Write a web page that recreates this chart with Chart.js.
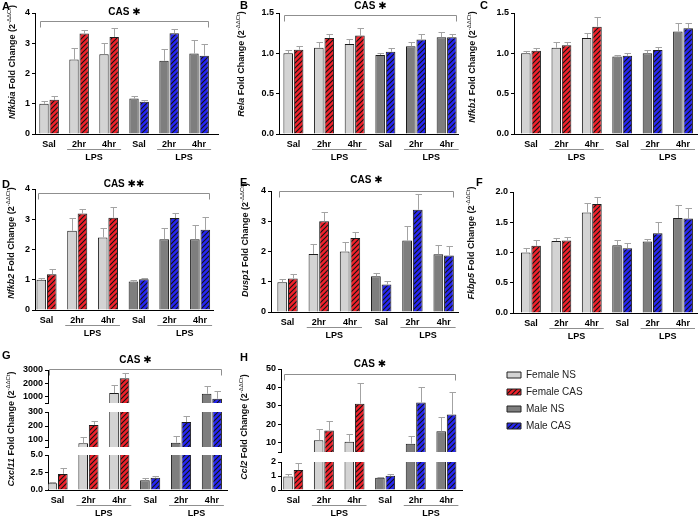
<!DOCTYPE html>
<html><head><meta charset="utf-8">
<script src="https://cdn.jsdelivr.net/npm/chart.js@4.4.1/dist/chart.umd.min.js"></script>
<style>
html,body{margin:0;padding:0;background:#fff;overflow:hidden;}
#wrap{position:relative;width:699px;height:517px;background:#fff;}
canvas{position:absolute;}
</style></head><body><div id="wrap"></div>
<script>
// ---------- data ----------
const categories = ['Sal','2hr','4hr','Sal','2hr','4hr'];
const groupLabel = 'LPS';
const seriesNames = ['Female NS','Female CAS','Male NS','Male CAS'];

const nfkbiaNS     = [1.00, 2.46, 2.64, 1.17, 2.42, 2.66];
const nfkbiaNSErr  = [0.08, 0.38, 0.37, 0.10, 0.39, 0.46];
const nfkbiaCAS    = [1.13, 3.32, 3.21, 1.07, 3.33, 2.59];
const nfkbiaCASErr = [0.12, 0.11, 0.28, 0.06, 0.14, 0.40];

const relaNS     = [1.00, 1.07, 1.116, 0.98, 1.087, 1.20];
const relaNSErr  = [0.04, 0.066, 0.064, 0.03, 0.053, 0.064];
const relaCAS    = [1.045, 1.19, 1.22, 1.02, 1.17, 1.20];
const relaCASErr = [0.042, 0.05, 0.10, 0.04, 0.065, 0.044];

const nfkb1NS     = [1.00, 1.07, 1.19, 0.96, 1.00, 1.27];
const nfkb1NSErr  = [0.025, 0.075, 0.06, 0.02, 0.037, 0.106];
const nfkb1CAS    = [1.033, 1.10, 1.33, 0.97, 1.04, 1.31];
const nfkb1CASErr = [0.033, 0.036, 0.12, 0.03, 0.04, 0.066];

const nfkb2NS     = [1.00, 2.62, 2.40, 0.94, 2.34, 2.34];
const nfkb2NSErr  = [0.05, 0.42, 0.31, 0.04, 0.37, 0.47];
const nfkb2CAS    = [1.18, 3.19, 3.05, 1.02, 3.04, 2.65];
const nfkb2CASErr = [0.17, 0.15, 0.35, 0.05, 0.16, 0.41];

const dusp1NS     = [0.98, 1.92, 2.00, 1.18, 2.36, 1.91];
const dusp1NSErr  = [0.10, 0.32, 0.33, 0.12, 0.47, 0.29];
const dusp1CAS    = [1.11, 3.00, 2.45, 0.91, 3.38, 1.87];
const dusp1CASErr = [0.16, 0.32, 0.21, 0.11, 0.53, 0.30];

const fkbp5NS     = [1.00, 1.19, 1.66, 1.12, 1.18, 1.57];
const fkbp5NSErr  = [0.08, 0.05, 0.15, 0.09, 0.05, 0.22];
const fkbp5CAS    = [1.11, 1.20, 1.80, 1.07, 1.32, 1.56];
const fkbp5CASErr = [0.09, 0.06, 0.11, 0.08, 0.18, 0.18];

const cxcl11NS     = [0.95, 76, 1250, 1.38, 81, 1200];
const cxcl11NSErr  = [0.22, 43, 625, 0.29, 47, 625];
const cxcl11CAS    = [2.30, 208, 2375, 1.76, 228, 825];
const cxcl11CASErr = [0.90, 25, 375, 0.29, 41, 550];

const ccl2NS     = [0.96, 11.4, 10.6, 0.87, 9.5, 16.2];
const ccl2NSErr  = [0.17, 5.8, 4.3, 0.07, 4.3, 8.0];
const ccl2CAS    = [1.42, 16.7, 31.2, 1.01, 31.8, 25.3];
const ccl2CASErr = [0.50, 5.2, 11.1, 0.12, 8.5, 12.4];

// tick labels
const ticks0to4   = ['0','1','2','3','4'];
const ticks0to15  = ['0.0','0.5','1.0','1.5'];
const ticks0to20  = ['0.0','0.5','1.0','1.5','2.0'];
const ticksCxcl11Low  = ['0.0','2.5','5.0'];
const ticksCxcl11Mid  = ['100','200','300'];
const ticksCxcl11High = ['1000','2000','3000'];
const ticksCcl2Low  = ['0','1','2'];
const ticksCcl2High = ['10','20','30','40','50'];

const casOne = 'CAS \u2731';
const casTwo = 'CAS \u2731\u2731';

// ---------- styles / layout ----------
const FONT = '"Liberation Sans", Arial, Helvetica, sans-serif';
Chart.defaults.font.family = FONT;
const LG = '#d3d3d3', DG = '#7e7e7e';
function hatch(color){
  const n = 5;
  const c = document.createElement('canvas'); c.width = n; c.height = n;
  const g = c.getContext('2d');
  g.fillStyle = color; g.fillRect(0,0,n,n);
  g.strokeStyle = '#141414'; g.lineWidth = 1.15;
  g.beginPath();
  g.moveTo(-1,n+1); g.lineTo(n+1,-1);
  g.moveTo(-1,1); g.lineTo(1,-1);
  g.moveTo(n-1,n+1); g.lineTo(n+1,n-1);
  g.stroke();
  return g.createPattern(c,'repeat');
}
const RP = hatch('#f0212a'), BP = hatch('#2626f2');

const panels = [
 {id:'A', gene:'Nfkbia', ns:nfkbiaNS, nsErr:nfkbiaNSErr, cas:nfkbiaCAS, casErr:nfkbiaCASErr,
  box:[0,0,233,170], axisX:35, right:218, xr:[-0.47,5.63],
  segs:[{min:0,max:4,top:13,bottom:134,ticks:ticks0to4}],
  title:[13,62], letter:[2,7], bracket:{y:20.5, ty:12, text:casOne}},
 {id:'B', gene:'Rela', ns:relaNS, nsErr:relaNSErr, cas:relaCAS, casErr:relaCASErr,
  box:[233,0,466,170], axisX:279, right:458, xr:[-0.47,5.37],
  segs:[{min:0,max:1.5,top:13,bottom:134,ticks:ticks0to15}],
  title:[242,64], letter:[240,6], bracket:{y:15, ty:6, text:casOne}},
 {id:'C', gene:'Nfkb1', ns:nfkb1NS, nsErr:nfkb1NSErr, cas:nfkb1CAS, casErr:nfkb1CASErr,
  box:[466,0,699,170], axisX:514, right:697, xr:[-0.56,5.46],
  segs:[{min:0,max:1.5,top:13,bottom:134,ticks:ticks0to15}],
  title:[472.5,67], letter:[480,6], bracket:null},
 {id:'D', gene:'Nfkb2', ns:nfkb2NS, nsErr:nfkb2NSErr, cas:nfkb2CAS, casErr:nfkb2CASErr,
  box:[0,170,233,340], axisX:35, right:213, xr:[-0.375,5.42],
  segs:[{min:0,max:4,top:189,bottom:310,ticks:ticks0to4}],
  title:[12,243], letter:[2,185], bracket:{y:193, ty:184, text:casTwo}},
 {id:'E', gene:'Dusp1', ns:dusp1NS, nsErr:dusp1NSErr, cas:dusp1CAS, casErr:dusp1CASErr,
  box:[233,170,466,340], axisX:271, right:458, xr:[-0.53,5.46],
  segs:[{min:0,max:4,top:191,bottom:312,ticks:ticks0to4}],
  title:[245.5,240], letter:[240,183], bracket:{y:191, ty:180, text:casOne}},
 {id:'F', gene:'Fkbp5', ns:fkbp5NS, nsErr:fkbp5NSErr, cas:fkbp5CAS, casErr:fkbp5CASErr,
  box:[466,170,699,340], axisX:513, right:697, xr:[-0.59,5.46],
  segs:[{min:0,max:2,top:192,bottom:313,ticks:ticks0to20}],
  title:[472,243], letter:[476,183], bracket:null},
 {id:'G', gene:'Cxcl11', ns:cxcl11NS, nsErr:cxcl11NSErr, cas:cxcl11CAS, casErr:cxcl11CASErr,
  box:[0,340,233,517], axisX:48, right:227, xr:[-0.31,5.49],
  segs:[{min:500,max:3000,top:370,bottom:403,ticks:ticksCxcl11High},
        {min:50,max:300,top:412,bottom:447,ticks:ticksCxcl11Mid},
        {min:0,max:5,top:455,bottom:490,ticks:ticksCxcl11Low}],
  title:[12,429], letter:[2,356], bracket:{y:369, ty:360, text:casOne}},
 {id:'H', gene:'Ccl2', ns:ccl2NS, nsErr:ccl2NSErr, cas:ccl2CAS, casErr:ccl2CASErr,
  box:[233,340,466,517], axisX:281, right:462, xr:[-0.4,5.51],
  segs:[{min:5,max:50,top:369,bottom:452,ticks:ticksCcl2High},
        {min:0,max:2,top:462,bottom:490,ticks:ticksCcl2Low}],
  title:[245,427], letter:[240,358], bracket:{y:374, ty:364, text:casOne}}
];

const wrap = document.getElementById('wrap');

const errPlugin = {id:'errbars', afterDatasetsDraw(chart){
  const ctx = chart.ctx, ys = chart.scales.y, a = chart.chartArea;
  ctx.save();
  ctx.beginPath(); ctx.rect(a.left, a.top - 1, a.right - a.left, a.bottom - a.top + 1); ctx.clip();
  ctx.strokeStyle = '#a3a3a3'; ctx.lineWidth = 1;
  chart.data.datasets.forEach((ds, di) => {
    const meta = chart.getDatasetMeta(di);
    meta.data.forEach((el, j) => {
      const v = ds.data[j];
      if (v == null || v < ys.min || v > ys.max) return;
      const x = Math.round(el.x) + 0.5;
      const y1 = Math.round(ys.getPixelForValue(v + ds.err[j])) + 0.5;
      ctx.beginPath();
      ctx.moveTo(x, el.y); ctx.lineTo(x, y1);
      ctx.moveTo(x - 3, y1); ctx.lineTo(x + 3.5, y1);
      ctx.stroke();
    });
  });
  ctx.restore();
}};

function drawTitle(ctx, cx, cy, gene){
  const parts = [
    {t: gene, f: 'italic bold 9px ' + FONT, dy: 0},
    {t: ' Fold Change (2', f: 'bold 9px ' + FONT, dy: 0},
    {t: '-\u0394\u0394Ct', f: '6px ' + FONT, dy: -3.5},
    {t: ')', f: 'bold 9px ' + FONT, dy: 0}
  ];
  let total = 0;
  parts.forEach(p => { ctx.font = p.f; p.w = ctx.measureText(p.t).width; total += p.w; });
  ctx.save();
  ctx.translate(cx, cy); ctx.rotate(-Math.PI/2);
  ctx.textAlign = 'left'; ctx.textBaseline = 'middle'; ctx.fillStyle = '#111';
  let x = -total/2;
  parts.forEach(p => { ctx.font = p.f; ctx.fillText(p.t, x, p.dy); x += p.w; });
  ctx.restore();
}

function decor(p){
  return {id:'decor' + p.id, afterDraw(chart){
    const ctx = chart.ctx, xs = chart.scales.x, a = chart.chartArea;
    const ox = p.box[0], oy = p.box[1];
    ctx.save();
    ctx.fillStyle = '#000'; ctx.textBaseline = 'middle';
    ctx.font = 'bold 11px ' + FONT; ctx.textAlign = 'left';
    ctx.fillText(p.id, p.letter[0] - ox, p.letter[1] - oy);
    drawTitle(ctx, p.title[0] - ox, p.title[1] - oy, p.gene);
    ctx.strokeStyle = '#8f8f8f'; ctx.lineWidth = 1;
    [[1,2],[4,5]].forEach(([i,j]) => {
      const x0 = xs.getPixelForValue(i) - 12, x1 = xs.getPixelForValue(j) + 12;
      const y = Math.round(a.bottom + 15) + 0.5;
      ctx.beginPath(); ctx.moveTo(x0, y); ctx.lineTo(x1, y); ctx.stroke();
      ctx.font = 'bold 9px ' + FONT; ctx.textAlign = 'center'; ctx.fillStyle = '#000';
      ctx.fillText(groupLabel, (x0 + x1)/2, a.bottom + 23.5);
    });
    if (p.bracket) {
      const x0 = Math.round(xs.getPixelForValue(0) - 9) + 0.5, x1 = Math.round(xs.getPixelForValue(5) + 9) + 0.5;
      const y = Math.round(p.bracket.y - oy) + 0.5;
      ctx.beginPath(); ctx.moveTo(x0, y + 6); ctx.lineTo(x0, y); ctx.lineTo(x1, y); ctx.lineTo(x1, y + 6); ctx.stroke();
      ctx.font = 'bold 10px ' + FONT + ', "DejaVu Sans"'; ctx.textAlign = 'center';
      ctx.fillText(p.bracket.text, (x0 + x1)/2, p.bracket.ty - oy);
    }
    ctx.restore();
  }};
}

const XH = 20;
function makeChart(p, seg, isBottom){
  const bx = p.box[0], by = p.box[1], bw = p.box[2] - p.box[0], bh = p.box[3] - p.box[1];
  const cv = document.createElement('canvas');
  cv.width = bw; cv.height = bh; cv.style.left = bx + 'px'; cv.style.top = by + 'px';
  cv.style.width = bw + 'px'; cv.style.height = bh + 'px';
  wrap.appendChild(cv);
  const tickMap = {};
  seg.ticks.forEach(t => { tickMap[parseFloat(t)] = t; });
  const tickVals = seg.ticks.map(parseFloat);
  if (tickVals.indexOf(seg.min) < 0) tickVals.unshift(seg.min);
  const filt = arr => arr.map(v => v >= seg.min ? v : null);
  const barOpts = {borderColor:'#1c1c1c', borderWidth:1, categoryPercentage:0.68, barPercentage:0.92, clip:0};
  new Chart(cv, {
    type: 'bar',
    data: {
      labels: categories.map((_, i) => i),
      datasets: [
        Object.assign({label:'NS', data: filt(p.ns), err: p.nsErr, backgroundColor:[LG,LG,LG,DG,DG,DG]}, barOpts),
        Object.assign({label:'CAS', data: filt(p.cas), err: p.casErr, backgroundColor:[RP,RP,RP,BP,BP,BP]}, barOpts)
      ]
    },
    options: {
      responsive: false, animation: false, devicePixelRatio: 1, events: [],
      layout: {padding: {left: 0, top: seg.top - by, right: bx + bw - p.right,
        bottom: isBottom ? (by + bh - seg.bottom - XH) : (by + bh - seg.bottom)}},
      plugins: {legend: {display: false}, tooltip: {enabled: false}},
      scales: {
        x: {type: 'linear', min: p.xr[0], max: p.xr[1], display: isBottom, offset: false,
          afterBuildTicks: s => { s.ticks = categories.map((_, i) => ({value: i})); },
          afterFit: s => { if (isBottom) s.height = XH; },
          grid: {display: false, drawTicks: false, tickLength: 0, offset: false},
          border: {color: '#000', width: 1},
          ticks: {callback: v => categories[v], font: {size: 9, weight: 'bold'}, color: '#000',
                  padding: 5, autoSkip: false, maxRotation: 0}},
        y: {min: seg.min, max: seg.max,
          afterBuildTicks: s => { s.ticks = tickVals.map(v => ({value: v})); },
          afterFit: s => { s.width = p.axisX - bx; },
          grid: {drawOnChartArea: false, drawTicks: true, tickLength: 3, color: '#000'},
          border: {color: '#000', width: 1},
          ticks: {callback: v => (tickMap[v] !== undefined ? tickMap[v] : ''),
                  font: {size: 9, weight: 'bold'}, color: '#000', padding: 2, autoSkip: false}}
      }
    },
    plugins: isBottom ? [errPlugin, decor(p)] : [errPlugin]
  });
}

panels.forEach(p => {
  p.segs.forEach((seg, k) => makeChart(p, seg, k === p.segs.length - 1));
});

// legend
(function(){
  const cv = document.createElement('canvas');
  cv.width = 233; cv.height = 177; cv.style.left = '466px'; cv.style.top = '340px';
  wrap.appendChild(cv);
  const fills = [LG, RP, DG, BP];
  new Chart(cv, {
    type: 'bar',
    data: {labels: [], datasets: seriesNames.map((n, i) => ({label: n, data: [], backgroundColor: fills[i]}))},
    options: {
      responsive: false, animation: false, devicePixelRatio: 1, events: [],
      layout: {padding: {left: 34, top: 23, right: 99, bottom: 0}},
      scales: {x: {display: false}, y: {display: false}},
      plugins: {tooltip: {enabled: false},
        legend: {display: true, position: 'top', align: 'start',
          labels: {boxWidth: 14, boxHeight: 6, padding: 7, color: '#222', font: {size: 10},
            generateLabels: chart => chart.data.datasets.map((d, i) => ({
              text: d.label, fillStyle: d.backgroundColor, strokeStyle: '#222', lineWidth: 1,
              hidden: false, datasetIndex: i, fontColor: '#222'}))}}}
    }
  });
})();
</script></body></html>
